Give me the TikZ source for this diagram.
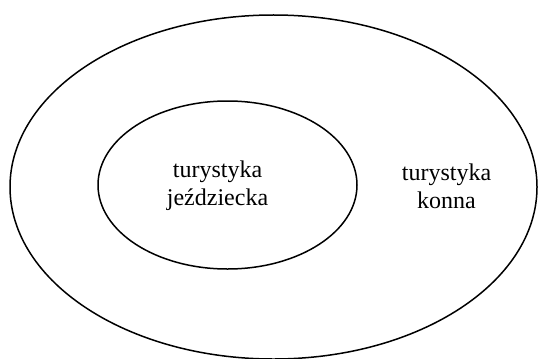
\documentclass[tikz,border=0pt]{standalone}
\usepackage{fontspec}
\setmainfont{Liberation Serif}
\begin{document}
\begin{tikzpicture}[x=0.5pt,y=-0.5pt,
  ring/.style={draw=black,line width=0.75pt},
  label/.style={align=center,font=\fontsize{12}{13.8}\selectfont,inner sep=0pt}]
\useasboundingbox (0,0) rectangle (539,358);
% outer set: horseback tourism, inner subset: equestrian tourism
\draw[ring] (273.5,187) ellipse [x radius=263.5, y radius=172];
\draw[ring] (227.5,185) ellipse [x radius=129.5, y radius=84];
\node[label] (inner) at (217.5,186) {turystyka\\jeździecka};
\node[label] (outer) at (446.5,186) {turystyka\\konna};
\end{tikzpicture}
\end{document}
